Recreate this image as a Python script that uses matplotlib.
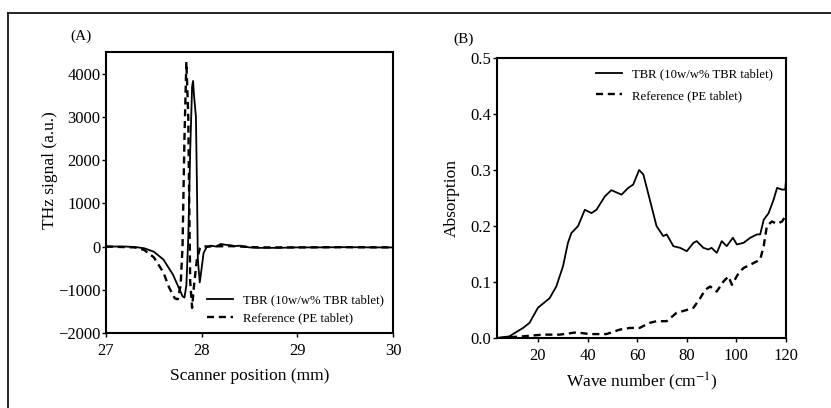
import matplotlib
matplotlib.use("Agg")
import matplotlib.pyplot as plt
from matplotlib.lines import Line2D

plt.rcParams['font.family'] = ['Liberation Serif', 'DejaVu Serif']
plt.rcParams['mathtext.fontset'] = 'stix'

# panel A - time domain THz signal
tbr_x = [27.0, 27.2, 27.3, 27.4, 27.5, 27.6, 27.7, 27.76, 27.8, 27.82, 27.84, 27.86, 27.88,
         27.9, 27.91, 27.92, 27.94, 27.95, 27.96, 27.98, 28.0, 28.02, 28.05, 28.1, 28.15,
         28.2, 28.25, 28.3, 28.35, 28.4, 28.5, 28.6, 28.8, 29.0, 29.2, 29.5, 29.8, 30.0]
tbr_y = [0, 0, -10, -40, -120, -300, -650, -950, -1150, -1180, -900, 200, 2200,
         3700, 3830, 3500, 3000, 1500, -300, -830, -500, -150, -20, 20, 0,
         60, 40, 30, 10, 20, -20, -30, -30, -20, -20, -15, -20, -20]

ref_x = [27.0, 27.3, 27.4, 27.5, 27.6, 27.66, 27.72, 27.75, 27.78, 27.8, 27.82, 27.84,
         27.86, 27.87, 27.88, 27.9, 27.92, 27.95, 27.98, 28.0, 28.3, 28.6, 29.0, 29.5, 30.0]
ref_y = [0, -20, -80, -250, -600, -950, -1200, -1220, -900, 0, 2500, 4270,
         3000, 1000, -800, -1420, -900, -300, -50, 0, 10, -20, -20, -15, -20]

# panel B - absorption spectra
wn_tbr = [4, 8.5, 14, 16.6, 20, 24.7, 27.4, 30.1, 32.1, 33.5, 36.2, 38.9, 41.6, 43.6, 47,
          49.6, 53.7, 56.4, 58.4, 60.8, 62.5, 65.1, 67.8, 70.5, 71.9, 74.6, 77.3, 80,
          82.7, 84, 86.7, 88.7, 90, 92.1, 94.1, 96.1, 98.6, 100.2, 102.9, 105.6, 108.3,
          109.6, 111, 113, 115, 116.4, 118.4, 119.7, 120]
abs_tbr = [0, 0.003, 0.018, 0.027, 0.054, 0.071, 0.092, 0.128, 0.17, 0.1875, 0.2, 0.229,
           0.223, 0.229, 0.253, 0.264, 0.256, 0.268, 0.274, 0.3, 0.292, 0.247, 0.2, 0.182,
           0.185, 0.164, 0.161, 0.155, 0.17, 0.173, 0.161, 0.158, 0.161, 0.152, 0.173,
           0.164, 0.179, 0.167, 0.17, 0.179, 0.185, 0.185, 0.211, 0.223, 0.247, 0.268,
           0.265, 0.265, 0.283]

wn_ref = [4, 14, 22, 28.8, 35.5, 40.9, 47.6, 53, 57, 61, 65, 67.8, 71.9, 75.9, 80, 82.7,
          85.4, 87.4, 89.4, 92.1, 94.8, 96.8, 98.2, 100.9, 102.9, 107, 109.6, 111, 112.3,
          114.3, 116.4, 118.4, 119.7]
abs_ref = [0, 0.003, 0.006, 0.006, 0.01, 0.007, 0.007, 0.015, 0.018, 0.018, 0.027, 0.03,
           0.03, 0.045, 0.05, 0.054, 0.071, 0.086, 0.092, 0.083, 0.101, 0.11, 0.095, 0.116,
           0.125, 0.134, 0.14, 0.164, 0.2, 0.208, 0.204, 0.208, 0.217]

W, H = 831, 408
fig = plt.figure(figsize=(W / 100, H / 100), dpi=100)

# outer frame (left + top only visible)
fig.add_artist(Line2D([8 / W, 8 / W], [0, 1 - 13 / H], color='black', lw=1.2))
fig.add_artist(Line2D([8 / W, 1], [1 - 13 / H, 1 - 13 / H], color='black', lw=1.2))

axA = fig.add_axes([106 / W, 1 - 333 / H, (393 - 106) / W, (333 - 52) / H])
axB = fig.add_axes([497 / W, 1 - 338 / H, (786 - 497) / W, (338 - 58) / H])

axA.plot(tbr_x, tbr_y, color='black', lw=1.3, label='TBR (10w/w% TBR tablet)')
axA.plot(ref_x, ref_y, color='black', lw=1.7, ls=(0, (3, 2)), label='Reference (PE tablet)')
axA.set_xlim(27, 30)
axA.set_ylim(-2000, 4500)
axA.set_xticks([27, 28, 29, 30])
axA.set_yticks([-2000, -1000, 0, 1000, 2000, 3000, 4000])
axA.set_yticklabels(['−2000', '−1000', '0', '1000', '2000', '3000', '4000'])
axA.set_xlabel('Scanner position (mm)', fontsize=12.5, labelpad=7)
axA.set_ylabel('THz signal (a.u.)', fontsize=12.5)
axA.yaxis.set_label_coords(-0.167, 0.58)
axA.legend(loc='lower right', frameon=False, fontsize=9.2, handlelength=2.0,
           labelspacing=0.45, borderaxespad=0.3, bbox_to_anchor=(1.0, 0.0))
axA.text(-0.125, 1.045, '(A)', transform=axA.transAxes, fontsize=11)

axB.plot(wn_tbr, abs_tbr, color='black', lw=1.3, label='TBR (10w/w% TBR tablet)')
axB.plot(wn_ref, abs_ref, color='black', lw=1.7, ls=(0, (3, 2)), label='Reference (PE tablet)')
axB.set_xlim(3.5, 120)
axB.set_ylim(0, 0.5)
axB.set_xticks([20, 40, 60, 80, 100, 120])
axB.set_yticks([0.0, 0.1, 0.2, 0.3, 0.4, 0.5])
axB.set_yticklabels(['0.0', '0.1', '0.2', '0.3', '0.4', '0.5'])
axB.set_xlabel('Wave number (cm$^{-1}$)', fontsize=12.5, labelpad=5)
axB.set_ylabel('Absorption', fontsize=12.5, labelpad=8)
axB.legend(loc='upper right', frameon=False, fontsize=9.2, handlelength=2.0,
           labelspacing=0.75, borderaxespad=0.4, bbox_to_anchor=(0.99, 1.0))
axB.text(-0.15, 1.055, '(B)', transform=axB.transAxes, fontsize=11)

for ax in (axA, axB):
    ax.tick_params(direction='out', length=3, width=1, labelsize=12, pad=4)
    ax.tick_params(axis='y', pad=1)
    for s in ax.spines.values():
        s.set_linewidth(1.5)

fig.savefig('out.png', dpi=100)
